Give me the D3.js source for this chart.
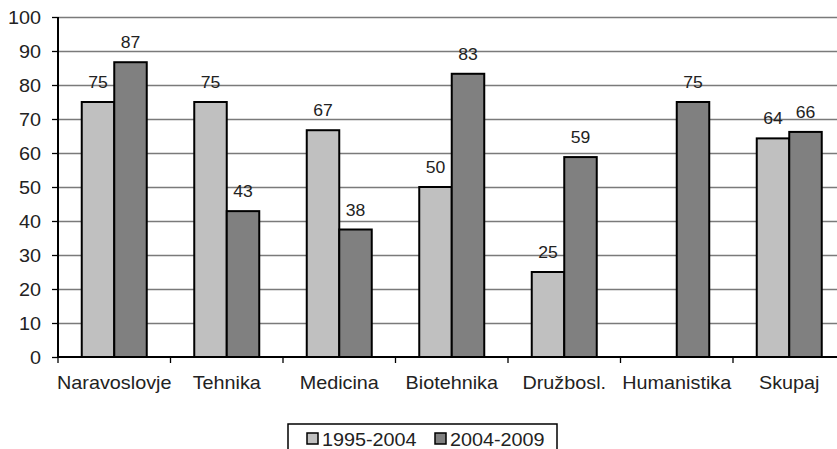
<!DOCTYPE html>
<html><head><meta charset="utf-8">
<script src="https://cdn.jsdelivr.net/npm/d3@7"></script>
<style>body{margin:0;background:#fff}svg{display:block;font-family:"Liberation Sans",Arial,sans-serif}</style>
</head><body><svg id="c" width="837" height="449"></svg>
<script>
const categories = ["Naravoslovje","Tehnika","Medicina","Biotehnika","Družbosl.","Humanistika","Skupaj"];
const seriesNames = ["1995-2004","2004-2009"];
const series1 = [75, 75, 66.7, 50, 25, null, 64.3];
const series2 = [86.7, 42.9, 37.5, 83.3, 58.8, 75, 66.2];
const yTicks = [0,10,20,30,40,50,60,70,80,90,100];
const colors = ["#c0c0c0","#808080"];

(function(){
const svg = d3.select("#c");
const mLeft = 58, mTop = 17, mBottom = 357, band = 112.5;
const sx = 1.1;
const x = d3.scaleBand().domain(categories).range([mLeft, mLeft + band*categories.length]).padding(0);
const y = d3.scaleLinear().domain([0,100]).range([mBottom, mTop]);
const barW = 32.5;
const place = (px, py) => `translate(${px},${py}) scale(${sx},1)`;

// gridlines
svg.append("g").selectAll("line").data(yTicks.filter(d=>d>0)).join("line")
  .attr("x1", mLeft).attr("x2", 837).attr("y1", d=>Math.round(y(d))+0.5).attr("y2", d=>Math.round(y(d))+0.5)
  .attr("stroke","#7a7a7a").attr("stroke-width",1.5);

// bars
const data = [];
categories.forEach((c,i)=>{
  [series1[i], series2[i]].forEach((v,k)=>{ if(v!=null) data.push({c, v, k}); });
});
const cx = c => x(c) + x.bandwidth()/2;
svg.append("g").selectAll("rect").data(data).join("rect")
  .attr("x", d => cx(d.c) + (d.k===0 ? -barW : 0))
  .attr("y", d => y(d.v))
  .attr("width", barW)
  .attr("height", d => y(0) - y(d.v))
  .attr("fill", d => colors[d.k]).attr("stroke","#000").attr("stroke-width",2);

// value labels
svg.append("g").selectAll("text").data(data).join("text")
  .attr("transform", d => place(cx(d.c) + (d.k===0 ? -barW/2 : barW/2), y(d.v) - 14))
  .attr("text-anchor","middle").attr("font-size",16).attr("fill","#222")
  .text(d => Math.round(d.v));

// y axis
const yAxis = d3.axisLeft(y).tickValues(yTicks).tickSize(6).tickPadding(0);
const gy = svg.append("g").attr("transform",`translate(${mLeft},0)`).call(yAxis);
gy.attr("font-family", null);
gy.select(".domain").attr("stroke","#000").attr("stroke-width",2).attr("d",`M0,${mTop}V${mBottom}`);
gy.selectAll(".tick line").attr("stroke","#000").attr("stroke-width",1.3);
gy.selectAll(".tick text").attr("x",null).attr("dy",null)
  .attr("transform", place(-17, 6.5))
  .attr("font-size",18).attr("fill","#222");

// x axis
const gx = svg.append("g").attr("transform",`translate(0,${mBottom})`);
gx.append("line").attr("x1",mLeft).attr("x2",837).attr("y1",0).attr("y2",0).attr("stroke","#000").attr("stroke-width",2);
gx.selectAll("line.t").data(d3.range(0, categories.length+1)).join("line").attr("class","t")
  .attr("x1", i => mLeft + i*band).attr("x2", i => mLeft + i*band).attr("y1",0).attr("y2",6)
  .attr("stroke","#000").attr("stroke-width",1.3);
gx.selectAll("text").data(categories).join("text")
  .attr("transform", c => place(cx(c), 31.5)).attr("text-anchor","middle")
  .attr("font-size",18).attr("fill","#222").text(c=>c);

// legend
const lg = svg.append("g");
lg.append("rect").attr("x",288).attr("y",424).attr("width",269).attr("height",30)
  .attr("fill","#fff").attr("stroke","#000").attr("stroke-width",1.5);
const lx = [307, 435];
seriesNames.forEach((n,k)=>{
  lg.append("rect").attr("x",lx[k]).attr("y",433).attr("width",11).attr("height",11)
    .attr("fill",colors[k]).attr("stroke","#000").attr("stroke-width",1.5);
  lg.append("text").attr("transform", place(lx[k]+15, 445.5)).attr("font-size",18).attr("fill","#222").text(n);
});
})();
</script></body></html>
